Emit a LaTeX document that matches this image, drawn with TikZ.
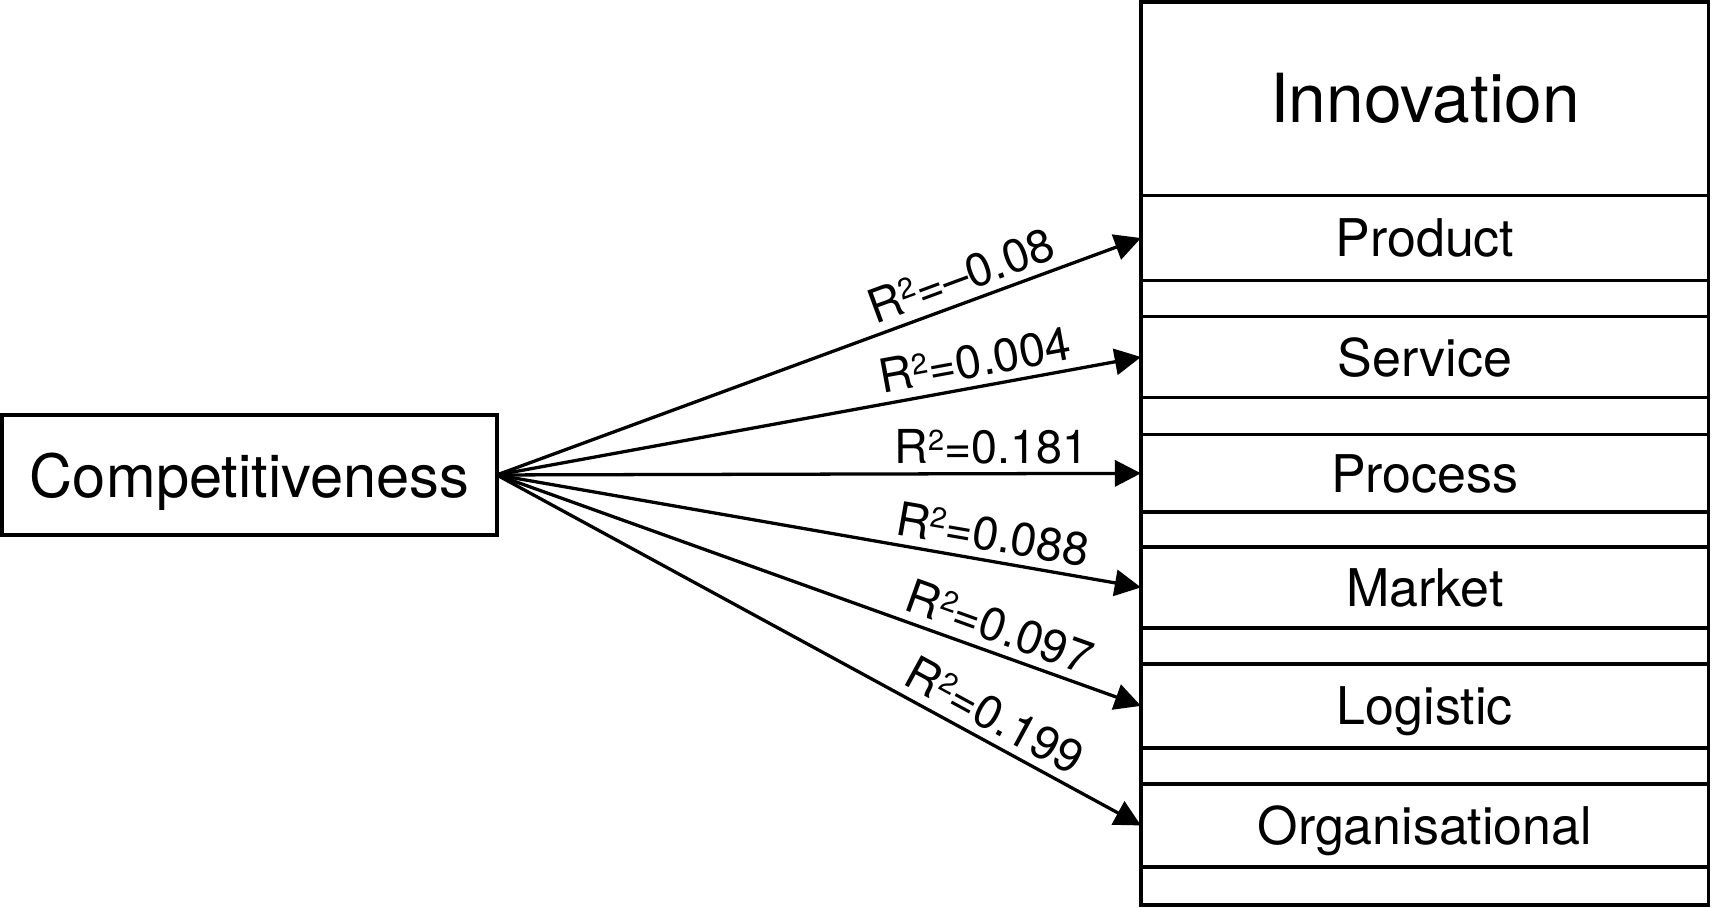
\documentclass[tikz,border=0pt]{standalone}
\usepackage{fontspec}
\setmainfont{TeX Gyre Heros}
\usetikzlibrary{arrows.meta}
\newcommand\Rsq{R\raisebox{0.28em}{\scalebox{0.62}{2}}}
\begin{document}
\begin{tikzpicture}[x=0.5pt,y=-0.5pt,
  box/.style={draw,line width=1.6pt,inner sep=0pt,outer sep=0pt,text depth=0pt},
  row/.style={box,minimum width=260pt,font=\fontsize{23.8}{28}\selectfont},
  conn/.style={line width=1.5pt,-{Triangle[length=12pt,width=12pt]}},
  lab/.style={sloped,above,font=\fontsize{21.4}{25}\selectfont,inner sep=3.6pt}]
\useasboundingbox (0,0) rectangle (1568,831);
% Innovation frame and title
\node[box,minimum width=260pt,minimum height=413.5pt,anchor=north west] (innov) at (1045,2) {};
\node[font=\fontsize{31}{37}\selectfont,inner sep=0pt,text depth=0pt] (title) at (1305,90) {Innovation};
% rows
\node[row,minimum height=39pt]   (product)  at (1305,218)   {Product};
\node[row,minimum height=37pt]   (service)  at (1305,327)   {Service};
\node[row,minimum height=35.5pt] (process)  at (1305,433.5) {Process};
\node[row,minimum height=37pt]   (market)   at (1305,538)   {Market};
\node[row,minimum height=38.5pt] (logistic) at (1305,646.5) {Logistic};
\node[row,minimum height=38pt]   (org)      at (1305,756)   {Organisational};
% source
\node[box,minimum width=226.5pt,minimum height=55pt,font=\fontsize{27.3}{32}\selectfont] (comp) at (228.5,435) {Competitiveness};
% connectors
\draw[conn] (comp.east) -- (product.west)  node[lab,pos=0.735] {\Rsq=–0.08};
\draw[conn] (comp.east) -- (service.west)  node[lab,pos=0.750] {\Rsq=0.004};
\draw[conn] (comp.east) -- (process.west)  node[lab,pos=0.768] {\Rsq=0.181};
\draw[conn] (comp.east) -- (market.west)   node[lab,pos=0.763] {\Rsq=0.088};
\draw[conn] (comp.east) -- (logistic.west) node[lab,pos=0.767] {\Rsq=0.097};
\draw[conn] (comp.east) -- (org.west)      node[lab,pos=0.753] {\Rsq=0.199};
\end{tikzpicture}
\end{document}
